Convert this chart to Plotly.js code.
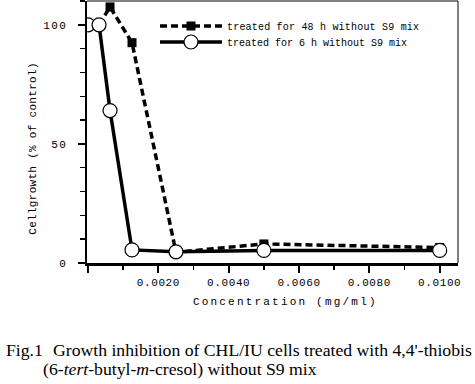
<!DOCTYPE html>
<html>
<head>
<meta charset="utf-8">
<script src="https://cdn.plot.ly/plotly-3.0.1.min.js"></script>
<style>
html, body { margin: 0; padding: 0; background: #fff; }
#chart { width: 475px; height: 384px; }
.xtick text { letter-spacing: 0.6px; }
.ytick text { letter-spacing: 1.4px; }
g.annotation[data-index="0"] text { letter-spacing: 2.2px; }
g.annotation[data-index="1"] text { letter-spacing: 0.3px; }
.legendtext { letter-spacing: 0.2px; }
</style>
</head>
<body>
<div id="chart"></div>
<script>
// Concentrations (mg/ml)
const conc = [0, 0.0003125, 0.000625, 0.00125, 0.0025, 0.005, 0.01];
// Cell growth (% of control)
const growth48h = [100, 100, 107.5, 92.5, 4.5, 8.0, 6.5];
const growth6h = [100, 100, 64, 5.5, 4.7, 5.3, 5.3];
const seriesNames = ['treated for 48 h without S9 mix', 'treated for 6 h without S9 mix'];
const xTickVals = [0, 0.002, 0.004, 0.006, 0.008, 0.01];
const xTickText = ['', '0.0020', '0.0040', '0.0060', '0.0080', '0.0100'];
const yTickVals = [0, 50, 100];
const yTickText = ['0', '50', '100'];
const xTitle = 'Concentration (mg/ml)';
const yTitle = 'Cellgrowth (% of control)';
const captionFig = 'Fig.1';
const captionLine1 = "Growth inhibition of CHL/IU cells treated with 4,4'-thiobis";
const captionLine2 = '(6-<i>tert</i>-butyl-<i>m</i>-cresol) without S9 mix';

const mono = 'Liberation Mono, Courier New, monospace';
const serif = 'Liberation Serif, Times New Roman, serif';

const traces = [
  {
    x: conc, y: growth48h, name: seriesNames[0], type: 'scatter', mode: 'lines+markers',
    legend: 'legend',
    line: { color: '#000', width: 3.5, dash: '7px,4px' },
    marker: { symbol: 'square', size: 9, color: '#000', line: { width: 0 } }
  },
  {
    x: conc, y: growth6h, name: seriesNames[1], type: 'scatter', mode: 'lines+markers',
    legend: 'legend2',
    line: { color: '#000', width: 3.5 },
    marker: { symbol: 'circle', size: 14, color: '#fff', line: { color: '#000', width: 1.2 } }
  }
];

// plot area in pixels: x 87..458, y 1..263
const px = v => (v - 87) / 371;
const py = v => (263 - v) / 262;

const legendBase = {
  xanchor: 'left', yanchor: 'middle',
  font: { family: mono, size: 10, color: '#000' },
  bgcolor: 'rgba(0,0,0,0)', borderwidth: 0,
  itemwidth: 62, tracegroupgap: 0
};

const layout = {
  width: 475, height: 384,
  margin: { l: 87, r: 17, t: 1, b: 121 },
  paper_bgcolor: '#fff', plot_bgcolor: '#fff',
  showlegend: true,
  legend: Object.assign({}, legendBase, { x: px(155), y: py(26) }),
  legend2: Object.assign({}, legendBase, { x: px(155), y: py(42) }),
  xaxis: {
    range: [-0.00003, 0.01052],
    showgrid: false, zeroline: false,
    showline: true, linecolor: '#000', linewidth: 2.5,
    ticks: 'outside', ticklen: 7, tickwidth: 2, tickcolor: '#000',
    tickmode: 'array', tickvals: xTickVals, ticktext: xTickText,
    minor: { dtick: 0.001, tick0: 0, ticks: 'outside', ticklen: 4, tickwidth: 1.5, tickcolor: '#000' },
    tickfont: { family: mono, size: 11, color: '#000' }
  },
  yaxis: {
    range: [0, 110],
    showgrid: false, zeroline: false,
    showline: true, linecolor: '#000', linewidth: 2.5,
    ticks: 'outside', ticklen: 7, tickwidth: 2, tickcolor: '#000',
    ticklabelstandoff: 8,
    tickmode: 'array', tickvals: yTickVals, ticktext: yTickText,
    minor: { dtick: 10, tick0: 0, ticks: 'outside', ticklen: 5, tickwidth: 1.5, tickcolor: '#000' },
    tickfont: { family: mono, size: 11, color: '#000' }
  },
  shapes: [
    { type: 'line', xref: 'paper', yref: 'paper', x0: 0, x1: 1, y0: 1, y1: 1, line: { color: '#000', width: 1 } },
    { type: 'line', xref: 'paper', yref: 'paper', x0: 1, x1: 1, y0: 0, y1: 1, line: { color: '#000', width: 1 } }
  ],
  annotations: [
    { xref: 'paper', yref: 'paper', x: px(285), y: py(302), xanchor: 'center', yanchor: 'middle',
      text: xTitle, showarrow: false, font: { family: mono, size: 11, color: '#000' } },
    { xref: 'paper', yref: 'paper', x: px(33), y: py(148), xanchor: 'center', yanchor: 'middle', textangle: -90,
      text: yTitle, showarrow: false, font: { family: mono, size: 11, color: '#000' } },
    { xref: 'paper', yref: 'paper', x: px(4), y: py(350), xanchor: 'left', yanchor: 'middle',
      text: captionFig, showarrow: false, font: { family: serif, size: 17.7, color: '#000' } },
    { xref: 'paper', yref: 'paper', x: px(51), y: py(350), xanchor: 'left', yanchor: 'middle',
      text: captionLine1, showarrow: false, font: { family: serif, size: 17.7, color: '#000' } },
    { xref: 'paper', yref: 'paper', x: px(41), y: py(369), xanchor: 'left', yanchor: 'middle',
      text: captionLine2, showarrow: false, font: { family: serif, size: 17.7, color: '#000' } }
  ]
};

Plotly.newPlot('chart', traces, layout, { displayModeBar: false, staticPlot: true });
</script>
</body>
</html>
